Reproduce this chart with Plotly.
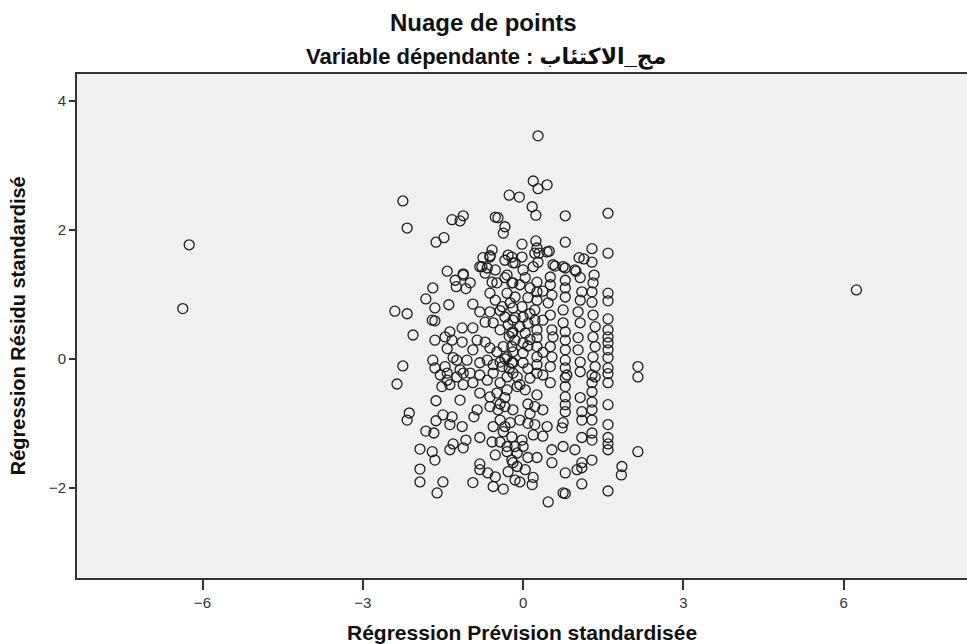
import plotly.graph_objects as go

# (standardized predicted value, standardized residual) pairs
outliers = [(-6.25, 1.77), (-6.37, 0.78), (6.24, 1.07), (0.28, 3.46)]

upper = [
    (-2.25, 2.45), (-2.17, 2.03), (-1.63, 1.81), (-1.48, 1.88), (-1.33, 2.16), (-1.18, 2.14),
    (-1.12, 2.22), (-0.52, 2.20), (-0.47, 2.19), (-0.34, 2.05), (-0.37, 1.95), (-0.26, 2.54),
    (-0.07, 2.51), (0.19, 2.76), (0.28, 2.64), (0.45, 2.70), (0.17, 2.36), (0.24, 2.23),
    (-0.02, 1.78), (0.24, 1.83), (-0.58, 1.69), (-0.62, 1.60), (-0.28, 1.61), (-0.02, 1.58),
    (0.26, 1.72), (0.30, 1.64), (0.28, 1.50), (0.19, 1.43), (-0.77, 1.43), (-0.67, 1.41),
    (-0.52, 1.38), (-1.42, 1.36), (-1.12, 1.32), (0.79, 2.22), (1.59, 2.26), (0.79, 1.81),
    (1.29, 1.71), (1.59, 1.64), (1.05, 1.57), (1.14, 1.55), (1.29, 1.50), (0.49, 1.67),
    (0.60, 1.44), (0.79, 1.41), (0.99, 1.36), (1.33, 1.30),
]

left_mid = [
    (-2.40, 0.74), (-2.17, 0.70), (-2.06, 0.37), (-2.25, -0.11), (-1.82, 0.93), (-1.69, 1.10),
    (-1.65, 0.79), (-1.39, 0.84), (-1.70, 0.60), (-1.65, 0.59), (-1.27, 1.22), (-1.12, 1.30),
    (-0.99, 1.18), (-1.25, 1.12), (-1.07, 1.09), (-0.94, 0.85), (-0.81, 0.73), (-0.62, 0.73),
    (-1.65, 0.29), (-1.46, 0.34), (-1.37, 0.42), (-1.14, 0.48), (-1.33, 0.29), (-1.14, 0.26),
    (-1.42, 0.16), (-1.69, -0.02), (-1.65, -0.14), (-1.46, -0.12), (-1.31, 0.02), (-0.81, 1.43),
    (-0.75, 1.57), (-0.62, 1.58), (-0.71, 1.33), (-0.58, 1.19), (-0.49, 1.18), (-0.34, 1.26),
    (-0.21, 1.18), (-0.34, 1.53), (-0.21, 1.58), (-0.15, 1.49), (-0.62, 1.02), (-0.52, 0.91),
    (-0.39, 0.81), (-0.24, 0.87), (-0.30, 1.02), (-0.71, 0.57), (-0.56, 0.56), (-0.43, 0.45),
    (-0.28, 0.53), (-0.15, 0.64), (-0.21, 0.40), (-0.94, 0.48), (-0.86, 0.29), (-0.71, 0.26),
    (-0.62, 0.17), (-0.49, 0.11), (-0.37, 0.19), (-0.21, 0.19), (-0.30, 0.03), (-0.21, -0.06),
    (-0.39, -0.12), (-0.56, -0.09), (-0.67, -0.02), (-0.81, -0.06), (-0.94, 0.14), (-1.05, -0.02),
    (-1.24, -0.02), (-1.18, -0.17), (-1.42, -0.22),
]

right_mid = [
    (1.59, 1.02), (1.59, 0.90), (1.59, 0.62), (1.59, 0.45), (1.59, 0.34), (1.59, 0.25),
    (1.59, 0.14), (1.59, 0.02), (1.59, -0.14), (2.15, -0.12), (2.15, -0.28), (1.31, 1.18),
    (1.29, 1.04), (1.29, 0.88), (1.31, 0.68), (1.35, 0.50), (1.31, 0.34), (1.35, 0.19),
    (1.31, 0.03), (1.35, -0.12), (1.35, -0.28), (1.07, 1.26), (1.10, 1.04), (1.07, 0.91),
    (1.03, 0.73), (1.07, 0.56), (1.03, 0.33), (1.03, 0.14), (1.07, -0.05), (1.07, -0.20),
    (0.79, 1.22), (0.79, 1.10), (0.79, 0.96), (0.75, 0.76), (0.75, 0.56), (0.79, 0.42),
    (0.79, 0.29), (0.79, 0.14), (0.79, -0.02), (0.79, -0.14), (0.79, -0.29), (0.56, 1.46),
    (0.75, 1.43), (0.97, 1.38), (0.51, 1.27), (0.51, 1.15), (0.54, 0.99), (0.47, 0.87),
    (0.51, 0.68), (0.54, 0.45), (0.56, 0.34), (0.51, 0.19), (0.54, 0.03), (0.51, -0.12),
    (0.22, 1.64), (0.45, 1.66), (0.00, 1.38), (0.04, 1.26), (0.26, 1.19), (0.26, 1.04),
    (0.26, 0.91), (0.22, 0.76), (0.22, 0.60), (0.26, 0.45), (0.26, 0.33), (0.26, 0.19),
    (0.26, 0.03), (0.26, -0.09), (0.26, -0.22), (-0.19, 1.49), (-0.19, 1.18), (-0.15, 0.96),
    (-0.19, 0.79), (-0.19, 0.60), (-0.19, 0.42), (-0.15, 0.29), (-0.19, 0.11), (-0.19, -0.06),
    (-0.19, -0.22), (-0.02, 0.81), (0.00, 0.65), (0.04, 0.40), (0.00, 0.25), (0.00, 0.09),
    (0.00, -0.06),
]

lower_left = [
    (-2.36, -0.39), (-2.13, -0.84), (-2.17, -0.95), (-1.63, -0.65), (-1.18, -0.64), (-1.63, -0.96),
    (-1.50, -0.87), (-1.33, -0.90), (-1.14, -1.05), (-1.37, -1.02), (-1.82, -1.12), (-1.67, -1.15),
    (-1.93, -1.40), (-1.70, -1.44), (-1.65, -1.57), (-1.37, -1.41), (-1.31, -1.32), (-1.12, -1.38),
    (-1.07, -1.26), (-1.93, -1.71), (-1.93, -1.91), (-1.61, -2.08), (-1.50, -1.91), (-0.94, -1.92),
    (-0.81, -1.72), (-0.81, -1.63), (-0.66, -1.77), (-0.52, -1.83), (-0.56, -1.98), (-0.37, -2.02),
    (-0.52, -1.49), (-0.58, -1.29), (-0.81, -1.22), (-0.92, -0.90), (-0.86, -0.79), (-0.30, -1.44),
    (-0.21, -1.57), (-0.28, -1.75), (-0.11, -1.67), (-0.15, -1.88), (-1.55, -0.25), (-1.42, -0.33),
    (-1.24, -0.28), (-1.12, -0.40), (-0.99, -0.22), (-0.81, -0.25), (-0.67, -0.33), (-0.56, -0.22),
    (-0.43, -0.37), (-0.30, -0.28), (-0.11, -0.43), (-0.30, -0.48), (-0.49, -0.53), (-0.62, -0.59),
    (-0.81, -0.53), (-0.94, -0.37), (-1.12, -0.22), (-1.52, -0.43), (-1.37, -0.40), (-0.62, -0.74),
    (-0.47, -0.79), (-0.34, -0.74), (-0.19, -0.79), (-0.43, -0.95), (-0.24, -0.99), (-0.56, -1.05),
    (-0.37, -1.13), (-0.21, -1.21), (-0.15, -1.36), (-0.43, -1.29), (-0.30, -1.36),
]

lower_right = [
    (1.59, -0.23), (1.59, -0.37), (1.59, -0.71), (1.59, -1.02), (1.59, -1.22), (1.59, -1.32),
    (1.59, -1.41), (2.15, -1.44), (1.85, -1.67), (1.84, -1.80), (1.59, -2.05), (1.29, -1.57),
    (1.10, -1.61), (1.10, -1.69), (1.01, -1.72), (0.79, -1.77), (1.10, -1.94), (0.75, -2.08),
    (0.79, -2.09), (0.47, -2.22), (0.54, -1.41), (0.75, -1.36), (0.97, -1.41), (0.54, -1.61),
    (1.10, -1.22), (1.29, -1.15), (1.29, -1.26), (1.29, -0.95), (1.29, -0.79), (1.29, -0.67),
    (1.29, -0.51), (1.29, -0.37), (1.29, -0.25), (1.10, -0.82), (1.10, -0.95), (1.07, -0.60),
    (0.82, -0.25), (0.79, -0.43), (0.79, -0.59), (0.79, -0.71), (0.79, -0.82), (0.75, -0.99),
    (0.73, -1.07), (0.51, -0.37), (-0.11, -0.28), (0.04, -0.48), (0.26, -0.56), (0.22, -0.74),
    (0.37, -0.79), (0.45, -1.05), (0.22, -1.02), (0.19, -1.18), (-0.02, -1.26), (0.00, -1.36),
    (-0.11, -1.46), (-0.19, -1.61), (0.04, -1.72), (0.19, -1.84), (0.17, -1.95), (-0.06, -1.91),
    (0.26, -1.53), (0.09, -1.53),
]

core = [
    (0.09, 0.95), (0.09, 0.55), (0.09, 0.20), (0.09, -0.15), (0.09, -0.70), (0.09, -1.00),
    (0.13, 1.10), (0.13, 0.70), (0.13, 0.30), (0.13, -0.30), (0.13, -0.85), (0.37, 1.05),
    (0.37, 0.60), (0.37, 0.10), (0.37, -0.25), (0.37, -1.20), (-0.06, 1.15), (-0.06, 0.50),
    (-0.06, -0.40), (-0.06, -0.95), (-0.34, 0.65), (-0.34, 0.00), (-0.34, -0.60), (-0.34, -1.05),
    (-0.43, 0.75), (-0.43, -0.05), (-0.43, -0.70), (-0.30, 1.30), (-0.26, 0.35), (-0.26, -0.15),
]

x_ticks = [-6, -3, 0, 3, 6]
y_ticks = [-2, 0, 2, 4]

title_text = "Nuage de points"
subtitle_text = "Variable dépendante : مج_الاكتئاب"
x_title = "Régression Prévision standardisée"
y_title = "Régression Résidu standardisé"

all_pts = outliers + upper + left_mid + right_mid + lower_left + lower_right + core
pred = [p[0] for p in all_pts]
resid = [p[1] for p in all_pts]

FONT = "Liberation Sans, Arial, DejaVu Sans, sans-serif"

fig = go.Figure(
    go.Scatter(
        x=pred, y=resid, mode="markers",
        marker=dict(symbol="circle-open", size=10, color="#1e1e1e", line=dict(width=1.3)),
        hoverinfo="x+y",
    )
)

fig.update_layout(
    width=967, height=644,
    margin=dict(l=77, r=0, t=74, b=66),
    paper_bgcolor="white",
    plot_bgcolor="#f0f0f0",
    showlegend=False,
    font=dict(family=FONT, color="#222"),
    xaxis=dict(
        range=[-8.35, 8.31], tickmode="array", tickvals=x_ticks,
        ticks="outside", ticklen=10, tickwidth=1.5, tickcolor="#333",
        showline=True, linecolor="#333", linewidth=2, mirror=True,
        showgrid=False, zeroline=False,
        tickfont=dict(size=15, color="#333", family=FONT),
    ),
    yaxis=dict(
        range=[-3.40, 4.42], tickmode="array", tickvals=y_ticks,
        ticks="outside", ticklen=6, tickwidth=1.5, tickcolor="#333",
        showline=True, linecolor="#333", linewidth=2,
        showgrid=False, zeroline=False,
        tickfont=dict(size=15, color="#333", family=FONT),
    ),
    annotations=[
        dict(text="<b>" + title_text + "</b>", xref="paper", yref="paper",
             x=0.457, y=1.103, xanchor="center", yanchor="middle", showarrow=False,
             font=dict(size=24, color="#111", family=FONT)),
        dict(text="<b>" + subtitle_text + "</b>", xref="paper", yref="paper",
             x=0.459, y=1.034, xanchor="center", yanchor="middle", showarrow=False,
             font=dict(size=22, color="#111", family=FONT)),
        dict(text="<b>" + x_title + "</b>", xref="paper", yref="paper",
             x=0.5, y=-0.109, xanchor="center", yanchor="middle", showarrow=False,
             font=dict(size=21, color="#111", family=FONT)),
        dict(text="<b>" + y_title + "</b>", xref="paper", yref="paper",
             x=-0.066, y=0.5, xanchor="center", yanchor="middle", showarrow=False,
             textangle=-90, font=dict(size=20, color="#111", family=FONT)),
    ],
)

fig.write_html("out.html")
